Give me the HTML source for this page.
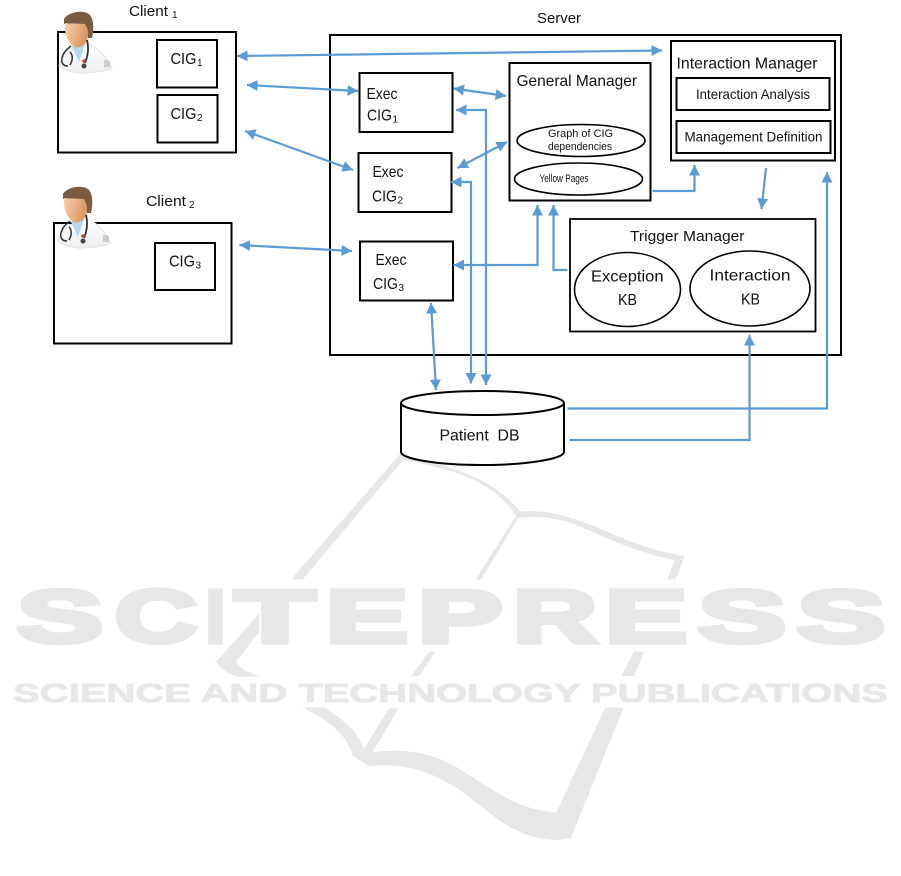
<!DOCTYPE html>
<html><head><meta charset="utf-8"><style>
html,body{margin:0;padding:0;background:#fff;width:901px;height:876px;overflow:hidden}
svg{display:block;filter:blur(.3px)}
text{font-family:"Liberation Sans",sans-serif;fill:#111}
.b{fill:#fff;stroke:#000;stroke-width:2}
.e{fill:#fff;stroke:#000;stroke-width:1.6}
.a{fill:none;stroke:#5b9bd5;stroke-width:2.2}
.w{fill:#e6e8e7;stroke:none}
.wt{font-weight:bold;fill:#e6e8e7;stroke:#e6e8e7;stroke-width:5;stroke-linejoin:miter}
</style></head><body>
<svg width="901" height="876" viewBox="0 0 901 876" xmlns="http://www.w3.org/2000/svg">
<defs>
<marker id="m" markerUnits="userSpaceOnUse" markerWidth="12" markerHeight="12" refX="10.500" refY="5.500" orient="auto-start-reverse"><path d="M0,0L10.500,5.500L0,11z" fill="#5b9bd5"/></marker>
<linearGradient id="f" x1="0" y1="0" x2="1" y2="0.3"><stop offset="0" stop-color="#f8d3ad"/><stop offset="1" stop-color="#d9955f"/></linearGradient>
<linearGradient id="c" x1="0" y1="0" x2="0" y2="1"><stop offset="0" stop-color="#fff"/><stop offset="1" stop-color="#eee"/></linearGradient>
<g id="doc">
<path d="M59,66C61,57 67,52 76,48L89,44C97,48 104,54 107,60L112,68C104,72 94,72 86,73C76,74 66,71 59,66z" fill="url(#c)" stroke="#e2e2e2" stroke-width="1"/>
<path d="M72,47L79,62L85,44L80,40z" fill="#b5d8ee"/>
<path d="M64,19C68,12 84,9 90,15C94,20 94,30 92,38L88,38C88,30 87,26 84,24C78,24 70,23 64,24z" fill="#7a5c44"/>
<path d="M65,23C72,24 80,24 85,24C89,30 89,37 86,42C83,47 77,49 73,46C67,41 64,32 65,23z" fill="url(#f)"/>
<path d="M71,46C66,50 63,53 62,58C61,63 63,66 68,66M70,52C73,55 73,60 70,65" fill="none" stroke="#333" stroke-width="1.5"/>
<path d="M87,40C89,48 88,56 85,63" fill="none" stroke="#2c2c2c" stroke-width="1.7"/>
<circle cx="84" cy="66" r="2.500" fill="#444"/><circle cx="84" cy="61" r="1.800" fill="#c84040"/>
<path d="M105,60v7M107,60v7M109,61v6" stroke="#aaa" stroke-width="1"/>
</g>
</defs>

<!-- watermark -->
<g transform="translate(0,440) scale(.5764,.3333)">
<path class="w" d="M695,40L505,418H525L702,55z"/>
<path class="w" d="M700,48C790,80 860,120 902,215C950,205 1000,235 1060,280C1100,310 1140,335 1188,348L1172,418H1158L1170,360C1110,340 1060,300 1010,262C970,232 930,225 897,235C870,150 810,90 700,62z"/>
<path class="w" d="M893,235L825,418H835L902,225z"/>
<path class="w" d="M450,520L375,665C385,690 395,700 410,710H452C430,698 415,685 410,665L450,575z"/>
<path class="w" d="M765,572H775L763,606z"/>
<path class="w" d="M745,635H755L727,708H713z"/>
<path class="w" d="M1100,635H1118L1100,708H1078z"/>
<path class="w" d="M525,803H562C590,830 625,880 631,928L675,805H692L646,937C700,925 750,935 800,990C860,1055 900,1110 965,1118L1050,803H1082L990,1195C950,1210 900,1190 850,1120C800,1050 740,960 640,978L612,948C605,890 570,840 525,803z"/>
</g>
<g font-size="74">
<text class="wt" x="17" y="642" textLength="86" lengthAdjust="spacingAndGlyphs">S</text>
<text class="wt" x="115" y="642" textLength="82" lengthAdjust="spacingAndGlyphs">C</text>
<text class="wt" x="206" y="642" textLength="19" lengthAdjust="spacingAndGlyphs">I</text>
<text class="wt" x="235" y="642" textLength="80" lengthAdjust="spacingAndGlyphs">T</text>
<text class="wt" x="326" y="642" textLength="82" lengthAdjust="spacingAndGlyphs">E</text>
<text class="wt" x="418" y="642" textLength="84" lengthAdjust="spacingAndGlyphs">P</text>
<text class="wt" x="513" y="642" textLength="84" lengthAdjust="spacingAndGlyphs">R</text>
<text class="wt" x="605" y="642" textLength="82" lengthAdjust="spacingAndGlyphs">E</text>
<text class="wt" x="698" y="642" textLength="88" lengthAdjust="spacingAndGlyphs">S</text>
<text class="wt" x="797" y="642" textLength="88" lengthAdjust="spacingAndGlyphs">S</text>
</g>
<text x="13" y="702" font-size="26" font-weight="bold" style="fill:#e6e8e7;stroke:#e6e8e7;stroke-width:.8" textLength="875" lengthAdjust="spacingAndGlyphs">SCIENCE AND TECHNOLOGY PUBLICATIONS</text>

<!-- clients -->
<rect class="b" x="58" y="32" width="178" height="120.5"/>
<rect class="b" x="157" y="40" width="60" height="47.5"/>
<rect class="b" x="157.5" y="95" width="60" height="47.5"/>
<rect class="b" x="54" y="223" width="177.5" height="120.5"/>
<rect class="b" x="155" y="243" width="60" height="47"/>
<use href="#doc"/>
<use href="#doc" x="-1" y="175"/>

<!-- server -->
<rect class="b" x="330" y="35" width="511" height="320"/>
<rect class="b" x="359.5" y="73" width="93" height="59"/>
<rect class="b" x="358.5" y="153" width="93" height="59"/>
<rect class="b" x="360" y="241.5" width="93" height="59"/>
<rect class="b" x="509.5" y="63" width="141" height="137.5"/>
<ellipse class="e" cx="581" cy="140.5" rx="64" ry="16"/>
<ellipse class="e" cx="578.5" cy="179" rx="64" ry="16"/>
<rect class="b" x="671" y="41" width="164" height="119.5"/>
<rect class="b" x="676.5" y="78" width="153" height="32"/>
<rect class="b" x="676.5" y="121" width="154" height="32"/>
<rect class="b" x="570" y="219" width="245.5" height="112.5" style="stroke-width:1.8"/>
<ellipse class="e" cx="627.5" cy="289.5" rx="53" ry="37"/>
<ellipse class="e" cx="750" cy="288.5" rx="60" ry="37.5"/>

<!-- database -->
<path class="b" d="M401,403V452C401,459 438,465 482,465C526,465 564,459 564,452V403"/>
<ellipse class="b" cx="482.500" cy="403" rx="81.500" ry="12"/>

<!-- arrows -->
<g>
<path class="a" d="M237,56L662,50.500" marker-start="url(#m)" marker-end="url(#m)"/>
<path class="a" d="M247,85L358,91" marker-start="url(#m)" marker-end="url(#m)"/>
<path class="a" d="M245,131L353,170" marker-start="url(#m)" marker-end="url(#m)"/>
<path class="a" d="M239.500,245L352,251" marker-start="url(#m)" marker-end="url(#m)"/>
<path class="a" d="M453.500,88.500L506,96" marker-start="url(#m)" marker-end="url(#m)"/>
<path class="a" d="M457.500,168L507,142" marker-start="url(#m)" marker-end="url(#m)"/>
<path class="a" d="M456,110H486V385" marker-start="url(#m)" marker-end="url(#m)"/>
<path class="a" d="M451,182H471V383.500" marker-start="url(#m)" marker-end="url(#m)"/>
<path class="a" d="M453.500,265H537.500V205" marker-start="url(#m)" marker-end="url(#m)"/>
<path class="a" d="M567.500,270H553.500V205" marker-end="url(#m)"/>
<path class="a" d="M431,303L436,390" marker-start="url(#m)" marker-end="url(#m)"/>
<path class="a" d="M652.500,191H694.500V165" marker-end="url(#m)"/>
<path class="a" d="M766,168L761.500,209" marker-end="url(#m)"/>
<path class="a" d="M567.500,408.500H827V172" marker-end="url(#m)"/>
<path class="a" d="M569.500,440H749.500V335" marker-end="url(#m)"/>
</g>

<!-- labels -->
<g font-size="15">
<text x="129" y="16" textLength="39" lengthAdjust="spacingAndGlyphs">Client</text><text x="172" y="18" font-size="10">1</text>
<text x="146" y="206" textLength="40" lengthAdjust="spacingAndGlyphs">Client</text><text x="189" y="208" font-size="10">2</text>
<text x="537" y="23" textLength="44" lengthAdjust="spacingAndGlyphs">Server</text>
</g>
<g font-size="16">
<text x="170.500" y="64" textLength="26" lengthAdjust="spacingAndGlyphs">CIG</text><text x="197" y="66" font-size="10">1</text>
<text x="170.500" y="119" textLength="26" lengthAdjust="spacingAndGlyphs">CIG</text><text x="197" y="121" font-size="10">2</text>
<text x="169" y="266.500" textLength="26" lengthAdjust="spacingAndGlyphs">CIG</text><text x="195.500" y="268.500" font-size="10">3</text>
<text x="366.500" y="99" textLength="31" lengthAdjust="spacingAndGlyphs">Exec</text>
<text x="367" y="120.500" textLength="25" lengthAdjust="spacingAndGlyphs">CIG</text><text x="392.500" y="122.500" font-size="10">1</text>
<text x="372.500" y="177" textLength="31" lengthAdjust="spacingAndGlyphs">Exec</text>
<text x="372" y="201.500" textLength="25" lengthAdjust="spacingAndGlyphs">CIG</text><text x="397.500" y="203.500" font-size="10">2</text>
<text x="375.500" y="265" textLength="31" lengthAdjust="spacingAndGlyphs">Exec</text>
<text x="373" y="289" textLength="25" lengthAdjust="spacingAndGlyphs">CIG</text><text x="398.500" y="291" font-size="10">3</text>
<text x="516.500" y="86" textLength="120.500" lengthAdjust="spacingAndGlyphs">General Manager</text>
<text x="676.500" y="68.500" textLength="141" lengthAdjust="spacingAndGlyphs">Interaction Manager</text>
<text x="591" y="281.500" textLength="72.500" lengthAdjust="spacingAndGlyphs">Exception</text>
<text x="618" y="305" textLength="19" lengthAdjust="spacingAndGlyphs">KB</text>
<text x="709.500" y="280.500" textLength="81" lengthAdjust="spacingAndGlyphs">Interaction</text>
<text x="741" y="304.500" textLength="19" lengthAdjust="spacingAndGlyphs">KB</text>
<text x="439.500" y="440.500" textLength="80" lengthAdjust="spacingAndGlyphs" xml:space="preserve">Patient  DB</text>
</g>
<g font-size="14">
<text x="696" y="99" textLength="114" lengthAdjust="spacingAndGlyphs">Interaction Analysis</text>
<text x="684.500" y="141.500" textLength="138" lengthAdjust="spacingAndGlyphs">Management Definition</text>
<text x="630" y="241" textLength="114.500" lengthAdjust="spacingAndGlyphs" font-size="15">Trigger Manager</text>
</g>
<g font-size="11">
<text x="548" y="137" textLength="65" lengthAdjust="spacingAndGlyphs">Graph of CIG</text>
<text x="548" y="150" textLength="64" lengthAdjust="spacingAndGlyphs">dependencies</text>
<text x="539.500" y="182" textLength="49" lengthAdjust="spacingAndGlyphs">Yellow Pages</text>
</g>
</svg>
</body></html>
